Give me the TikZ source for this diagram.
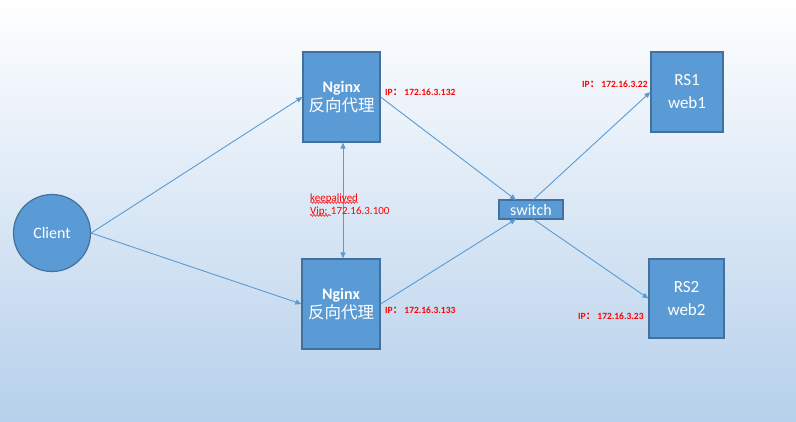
\documentclass[tikz,border=0pt]{standalone}
\usepackage{fontspec}
\setmainfont{Carlito}
\newfontfamily\cjk{Noto Sans CJK SC}
\usetikzlibrary{arrows.meta,decorations.pathmorphing}
\definecolor{boxfill}{RGB}{91,155,213}
\definecolor{boxline}{RGB}{65,113,156}
\definecolor{linecol}{RGB}{91,155,213}
\definecolor{bgbottom}{RGB}{182,208,235}
\definecolor{iprd}{RGB}{255,0,0}
\tikzset{
  box/.style={draw=boxline, line width=1.2pt, fill=boxfill, text=white, align=center, inner sep=0pt},
  conn/.style={draw=linecol, line width=0.9pt, -{Triangle[length=6pt,width=5pt]}},
  iplabel/.style={text=iprd, font=\fontsize{9.5}{10}\selectfont\bfseries, anchor=west, inner sep=0pt},
  vlabel/.style={text=iprd, font=\fontsize{11}{12}\selectfont, anchor=west, inner sep=0pt},
  wavy/.style={draw=iprd, line width=0.5pt, decorate, decoration={snake, amplitude=1pt, segment length=3pt}}
}
\begin{document}
\begin{tikzpicture}[x=1pt,y=-1pt]
\useasboundingbox (0,0) rectangle (796,421);
\shade[top color=white, bottom color=bgbottom] (0,0) rectangle (796,421);

\node[box, circle, minimum size=77pt, font=\fontsize{16}{18}\selectfont] (client) at (52,233) {Client};
\node[box, minimum width=77pt, minimum height=90pt] (ng1) at (341.5,97) {\fontsize{16}{18}\selectfont\bfseries Nginx\\[1pt]\fontsize{16.5}{19}\selectfont\cjk 反向代理};
\node[box, minimum width=78pt, minimum height=90pt] (ng2) at (341,304) {\fontsize{16}{18}\selectfont\bfseries Nginx\\[1pt]\fontsize{16.5}{19}\selectfont\cjk 反向代理};
\node[box, minimum width=64pt, minimum height=19pt, font=\fontsize{16}{18}\selectfont] (sw) at (531,209.5) {switch};
\node[box, minimum width=72pt, minimum height=80pt, font=\fontsize{17}{23}\selectfont] (rs1) at (687,92) {RS1\\web1};
\node[box, minimum width=75pt, minimum height=79pt, font=\fontsize{17}{23}\selectfont] (rs2) at (686.5,298.5) {RS2\\web2};

\coordinate (sw1) at (516,200);
\coordinate (sw2) at (516,219);
\coordinate (sw3) at (533,200);
\coordinate (sw4) at (533,219);

\draw[conn] (client.east) -- (ng1.west);
\draw[conn] (client.east) -- (ng2.west);
\draw[conn] (ng1.east) -- (sw1);
\draw[conn] (ng2.east) -- (sw2);
\draw[conn] (sw3) -- (rs1.west);
\draw[conn] (sw4) -- (rs2.west);
\draw[draw=linecol, line width=0.9pt, {Triangle[length=6pt,width=5pt]}-{Triangle[length=6pt,width=5pt]}] (ng1.south -| 343,0) -- (ng2.north -| 343,0);

\node[iplabel] (ip1) at (385,92) {IP{\cjk ：} 172.16.3.132};
\node[iplabel] (ip2) at (385,310) {IP{\cjk ：} 172.16.3.133};
\node[iplabel] (ip3) at (582,84) {IP{\cjk ：} 172.16.3.22};
\node[iplabel] (ip4) at (578,316) {IP{\cjk ：} 172.16.3.23};

\node[vlabel] (ka) at (310,199) {keepalived};
\node[vlabel] (vip) at (310,212) {Vip: 172.16.3.100};
\draw[wavy] ([yshift=1.5pt]ka.south west) -- ([yshift=1.5pt]ka.south east);
\coordinate (vipend) at ([xshift=21pt,yshift=1.5pt]vip.south west);
\draw[wavy] ([yshift=1.5pt]vip.south west) -- (vipend);
\end{tikzpicture}
\end{document}
